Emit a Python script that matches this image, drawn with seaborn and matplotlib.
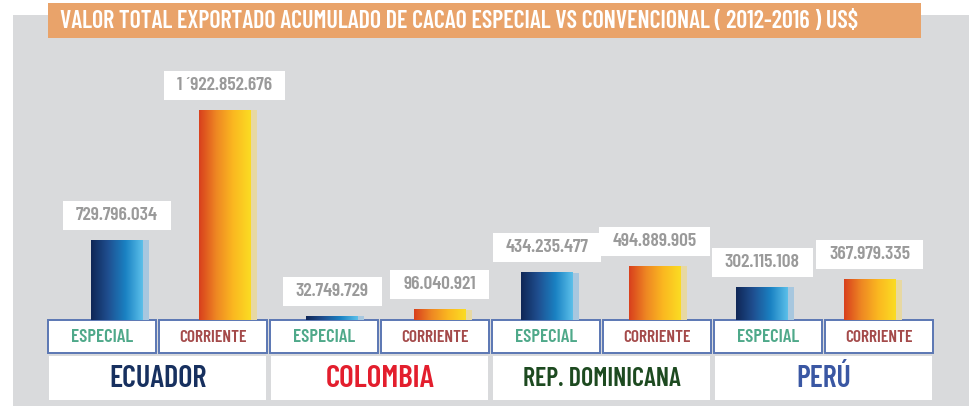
import numpy as np
import pandas as pd
import matplotlib
matplotlib.use("Agg")
import matplotlib.pyplot as plt
import seaborn as sns
from matplotlib.patches import Rectangle
from matplotlib.colors import LinearSegmentedColormap

sns.set_style("white")
plt.rcParams["font.family"] = ["Barlow Condensed", "DejaVu Sans"]

# --------------------------------------------------------------------------
# Data
# --------------------------------------------------------------------------
title = "VALOR TOTAL EXPORTADO ACUMULADO DE CACAO ESPECIAL VS CONVENCIONAL ( 2012-2016 ) US$"
countries = ["ECUADOR", "COLOMBIA", "REP. DOMINICANA", "PERÚ"]
country_colors = ["#17305f", "#e31e2d", "#1d4a20", "#3a57a3"]
types = ["ESPECIAL", "CORRIENTE"]
type_colors = ["#4fa98a", "#a44a4a"]
especial = [729796034, 32749729, 434235477, 302115108]
corriente = [1922852676, 96040921, 494889905, 367979335]
value_labels = ["729.796.034", "1\u2009´922.852.676", "32.749.729", "96.040.921",
                "434.235.477", "494.889.905", "302.115.108", "367.979.335"]

rows = []
for c, e, k in zip(countries, especial, corriente):
    rows.append({"slot": c + " E", "tipo": "ESPECIAL", "valor": e})
    rows.append({"slot": c + " C", "tipo": "CORRIENTE", "valor": k})
df = pd.DataFrame(rows)

# --------------------------------------------------------------------------
# Figure
# --------------------------------------------------------------------------
W, H = 969, 407
fig = plt.figure(figsize=(W / 100, H / 100), dpi=100)
fig.patch.set_facecolor("white")
renderer = fig.canvas.get_renderer()


def px_rect(x0, y0, x1, y1, **kw):
    """rectangle given in pixel coords measured from top-left"""
    r = Rectangle((x0 / W, 1 - y1 / H), (x1 - x0) / W, (y1 - y0) / H,
                  transform=fig.transFigure, **kw)
    fig.add_artist(r)
    return r


def px_text(x, y, s, max_w=None, **kw):
    t = fig.text(x / W, 1 - y / H, s, **kw)
    if max_w:
        # shrink until the text fits the width it has in the reference
        while t.get_window_extent(renderer).width > max_w and t.get_fontsize() > 6:
            t.set_fontsize(t.get_fontsize() - 0.25)
    return t


# grey panel + title banner
px_rect(13, 15, 969, 406, facecolor="#d9dadc", edgecolor="none", zorder=0)
px_rect(48, 3, 921, 38, facecolor="#e9a36a", edgecolor="none", zorder=1)
px_text(60, 22, title, max_w=810, color="white", fontsize=17.5, fontweight="semibold",
        va="center", ha="left", zorder=2)

# type boxes and country boxes
slot_w = (935 - 47) / 8
for i in range(8):
    x0 = 47 + i * slot_w
    px_rect(x0 + 1, 320, x0 + slot_w - 2, 353, facecolor="white",
            edgecolor="#5b77b3", linewidth=1.4, zorder=1)
    px_text(x0 + slot_w / 2, 337.5, types[i % 2], max_w=70 if i % 2 == 0 else 68,
            color=type_colors[i % 2], fontsize=13.5, fontweight="semibold",
            ha="center", va="center", zorder=2)
country_w = [98, 110, 158, 55]
for j, (c, col) in enumerate(zip(countries, country_colors)):
    x0 = 47 + 2 * j * slot_w
    px_rect(x0 + 2, 356, x0 + 2 * slot_w - 3, 400, facecolor="white",
            edgecolor="none", zorder=1)
    px_text(x0 + slot_w, 379, c, max_w=country_w[j], color=col, fontsize=22.5,
            fontweight="semibold", ha="center", va="center", zorder=2)

# bar axes
ax_l, ax_r, ax_b, ax_t = 63.25, 923.25, 320, 80
ax = fig.add_axes([ax_l / W, 1 - ax_b / H, (ax_r - ax_l) / W, (ax_b - ax_t) / H])
ax.set_zorder(3)
ax.patch.set_alpha(0)
sns.barplot(data=df, x="slot", y="valor", ax=ax, width=0.48, color="#888888",
            errorbar=None, zorder=3)

cmaps = {
    "ESPECIAL": LinearSegmentedColormap.from_list(
        "esp", ["#0f2656", "#1f4f90", "#1a82c3", "#5cc0ea"]),
    "CORRIENTE": LinearSegmentedColormap.from_list(
        "cor", ["#d83f1d", "#ee8723", "#fbb920", "#fadc23"]),
}
shadow = {"ESPECIAL": "#a7c7df", "CORRIENTE": "#e7d8a2"}
grad = np.linspace(0, 1, 256).reshape(1, -1)

labels = []
for patch, tipo, lab in zip(ax.patches, df["tipo"], value_labels):
    x, w, h = patch.get_x(), patch.get_width(), patch.get_height()
    patch.set_visible(False)
    ax.add_patch(Rectangle((x + 0.3 * w, 0), w * 0.7 + 0.06, h,
                           facecolor=shadow[tipo], edgecolor="none", zorder=2))
    ax.imshow(grad, cmap=cmaps[tipo], extent=[x, x + w, 0, h], aspect="auto",
              zorder=4, interpolation="bicubic")
    a = ax.annotate(lab, (x + w / 2, h), xytext=(0, 18), textcoords="offset points",
                    ha="center", va="center", color="#9a9a9a", fontsize=14,
                    fontweight="semibold", zorder=6)
    labels.append(a)

ax.set_xlim(-0.5, 7.5)
ax.set_ylim(0, 2.2e9)
ax.set_axis_off()

# white boxes behind the value labels, sized like the reference
fig.canvas.draw()
for a in labels:
    ext = a.get_window_extent(renderer)
    cx, cy = (ext.x0 + ext.x1) / 2, (ext.y0 + ext.y1) / 2
    bw, bh = ext.width + 26, 29
    fig.add_artist(Rectangle(((cx - bw / 2) / W, (cy - bh / 2) / H), bw / W, bh / H,
                             transform=fig.transFigure, facecolor="white",
                             edgecolor="none", zorder=0.5))

fig.savefig("out.png", dpi=100)
